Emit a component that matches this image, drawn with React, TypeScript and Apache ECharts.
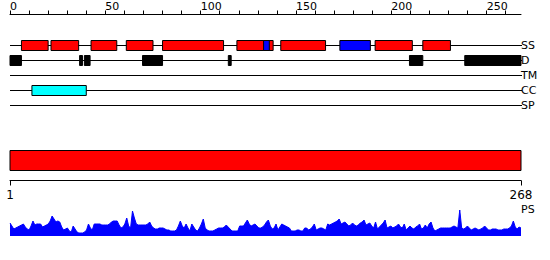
import React, { useEffect, useRef } from "react";
import * as echarts from "echarts";

const TRACKS = ["SS", "D", "TM", "CC", "SP"];
const TOP_TICKS = [0, 10, 20, 30, 40, 50, 60, 70, 80, 90, 100, 110, 120, 130, 140, 150, 160, 170, 180, 190, 200, 210, 220, 230, 240, 250, 260];
const TOP_LABELS = [0, 50, 100, 150, 200, 250];
const SEQ_ENDS = [1, 268];

// [start, end]
const HELIX = [[6, 20], [21.5, 36], [42.5, 56], [61, 75], [80, 112], [119, 138], [142, 165.5], [191.5, 211], [216.5, 231]];
const STRAND = [[133, 136], [173, 189]];
const DISORDER = [[0, 6], [36.5, 38], [39, 42], [69.5, 80], [114.5, 116], [209.5, 216.5], [238.5, 268]];
const COILED = [[11.5, 40]];
const DOMAIN = [[1, 268]];

const PS = [
  13, 10, 7, 8, 9, 10, 11, 12, 9, 7,
  6, 10, 15, 11, 12, 12, 12, 9, 10, 11,
  12, 15, 20, 17, 14, 15, 14, 9, 6, 7,
  8, 5, 4, 10, 7, 4, 3, 3, 3, 4,
  6, 12, 8, 6, 12, 12, 12, 12, 11, 11,
  11, 11, 12, 14, 15, 15, 15, 11, 8, 9,
  12, 18, 10, 8, 25, 18, 12, 11, 11, 11,
  11, 11, 12, 14, 10, 8, 7, 7, 8, 8,
  8, 7, 6, 6, 5, 5, 5, 6, 10, 15,
  10, 8, 12, 8, 5, 12, 9, 6, 5, 8,
  12, 17, 8, 6, 5, 5, 5, 6, 7, 8,
  8, 8, 9, 11, 9, 7, 5, 5, 5, 5,
  10, 10, 10, 13, 16, 12, 10, 11, 12, 10,
  8, 8, 9, 11, 14, 16, 10, 7, 8, 12,
  6, 9, 12, 11, 10, 9, 8, 5, 5, 5,
  6, 6, 5, 5, 8, 8, 6, 7, 9, 12,
  6, 7, 8, 8, 7, 6, 12, 11, 12, 13,
  14, 15, 17, 12, 13, 14, 12, 10, 11, 13,
  11, 10, 11, 13, 14, 16, 11, 12, 13, 10,
  8, 14, 7, 9, 11, 13, 16, 8, 9, 10,
  8, 9, 10, 12, 9, 8, 12, 6, 8, 10,
  8, 7, 9, 10, 12, 7, 8, 11, 8, 12,
  14, 8, 5, 6, 7, 8, 8, 8, 8, 8,
  8, 9, 10, 9, 8, 26, 8, 7, 8, 10,
  8, 6, 7, 8, 7, 6, 7, 8, 10, 8,
  6, 6, 7, 7, 7, 6, 6, 6, 7, 7,
  7, 8, 10, 15, 9, 7, 9, 8,
];

const FONT = "DejaVu Sans";

export default function App() {
  const ref = useRef<HTMLDivElement>(null);

  useEffect(() => {
    document.body.style.margin = "0";
    const chart = echarts.init(ref.current!, null, { renderer: "svg" });

    const boxItems: any[] = [];
    HELIX.forEach(([s, e]) => boxItems.push([s, e, 0, "#ff0000"]));
    STRAND.forEach(([s, e]) => boxItems.push([s, e, 0, "#0000ff"]));
    DISORDER.forEach(([s, e]) => boxItems.push([s, e, 1, "#000000"]));
    COILED.forEach(([s, e]) => boxItems.push([s, e, 3, "#00ffff"]));

    const option: any = {
      animation: false,
      textStyle: { fontFamily: FONT },
      title: {
        text: "PS",
        left: 521,
        top: 204,
        padding: 0,
        textStyle: { fontFamily: FONT, fontSize: 11, fontWeight: "normal", color: "#000" },
      },
      grid: [
        { left: 10, right: 29, top: 38, height: 75 },
        { left: 10, right: 29, top: 150.5, height: 20 },
        { left: 10, right: 29, top: 206, height: 30 },
      ],
      xAxis: [
        {
          gridIndex: 0,
          type: "value",
          min: 0,
          max: 268,
          position: "top",
          offset: 23.5,
          axisLine: { show: true, onZero: false, lineStyle: { color: "#000", width: 1 } },
          axisTick: { show: true, length: 4, lineStyle: { color: "#000" }, customValues: TOP_TICKS },
          axisLabel: {
            show: true,
            customValues: TOP_LABELS,
            align: "left",
            margin: 3,
            fontSize: 11,
            color: "#000",
            fontFamily: FONT,
          },
          splitLine: { show: false },
        },
        {
          gridIndex: 1,
          type: "value",
          min: 1,
          max: 268,
          position: "bottom",
          offset: 10,
          axisLine: { show: true, onZero: false, lineStyle: { color: "#000", width: 1 } },
          axisTick: { show: true, length: 5, lineStyle: { color: "#000" }, customValues: SEQ_ENDS },
          axisLabel: {
            show: true,
            customValues: SEQ_ENDS,
            margin: 8,
            fontSize: 12,
            color: "#000",
            fontFamily: FONT,
            showMinLabel: true,
            showMaxLabel: true,
          },
          splitLine: { show: false },
        },
        {
          gridIndex: 2,
          type: "value",
          min: 1,
          max: 268,
          show: false,
        },
      ],
      yAxis: [
        {
          gridIndex: 0,
          type: "category",
          data: TRACKS,
          inverse: true,
          position: "right",
          axisLine: { show: false },
          axisTick: { show: false },
          axisLabel: { show: true, margin: 0, fontSize: 11, color: "#000", fontFamily: FONT },
          splitLine: { show: false },
        },
        { gridIndex: 1, type: "value", min: 0, max: 1, show: false },
        { gridIndex: 2, type: "value", min: 0, max: 30, show: false },
      ],
      series: [
        {
          type: "custom",
          xAxisIndex: 0,
          yAxisIndex: 0,
          data: TRACKS.map((_, i) => [0, 268, i]),
          encode: { x: [0, 1], y: 2 },
          renderItem: (params: any, api: any) => {
            const a = api.coord([api.value(0), api.value(2)]);
            const b = api.coord([api.value(1), api.value(2)]);
            return {
              type: "line",
              shape: { x1: a[0], y1: a[1], x2: b[0] + 1, y2: b[1] },
              style: { stroke: "#000", lineWidth: 1 },
            };
          },
          z: 1,
        },
        {
          type: "custom",
          xAxisIndex: 0,
          yAxisIndex: 0,
          data: boxItems,
          encode: { x: [0, 1], y: 2 },
          renderItem: (params: any, api: any) => {
            const a = api.coord([api.value(0), api.value(2)]);
            const b = api.coord([api.value(1), api.value(2)]);
            const color = boxItems[params.dataIndex][3];
            return {
              type: "rect",
              shape: { x: a[0], y: a[1] - 5, width: b[0] - a[0], height: 10 },
              style: { fill: color, stroke: "#000", lineWidth: 1 },
            };
          },
          z: 2,
        },
        {
          type: "custom",
          xAxisIndex: 1,
          yAxisIndex: 1,
          data: DOMAIN.map(([s, e]) => [s, e]),
          encode: { x: [0, 1] },
          renderItem: (params: any, api: any) => {
            const a = api.coord([api.value(0), 1]);
            const b = api.coord([api.value(1), 0]);
            return {
              type: "rect",
              shape: { x: a[0], y: a[1], width: b[0] - a[0], height: b[1] - a[1] },
              style: { fill: "#ff0000", stroke: "#000", lineWidth: 1 },
            };
          },
        },
        {
          type: "line",
          xAxisIndex: 2,
          yAxisIndex: 2,
          data: PS.map((v, i) => [i + 1, v]),
          symbol: "none",
          lineStyle: { color: "#0000ff", width: 1 },
          areaStyle: { color: "#0000ff", opacity: 1 },
        },
      ],
    };

    chart.setOption(option);
    return () => chart.dispose();
  }, []);

  return <div ref={ref} style={{ width: 550, height: 260 }} />;
}
